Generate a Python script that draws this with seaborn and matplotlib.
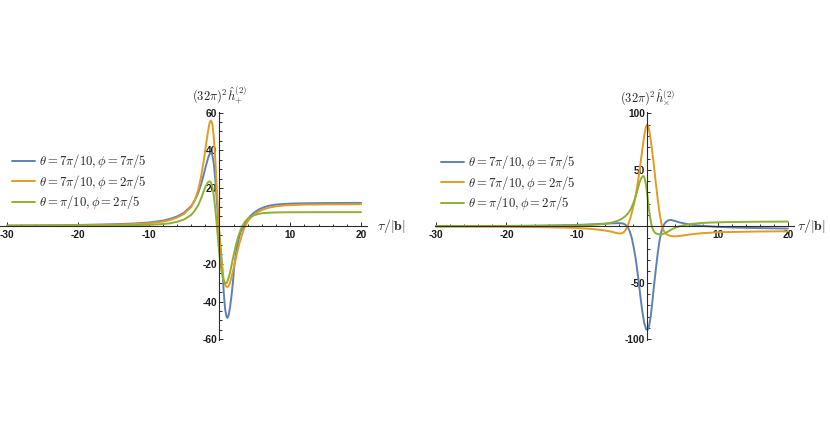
import numpy as np
import pandas as pd
import matplotlib
matplotlib.use("Agg")
import matplotlib.pyplot as plt
import seaborn as sns
from matplotlib.ticker import MultipleLocator, FixedLocator, FixedFormatter

# ---------------- data ----------------
series_labels = [r'$\theta = 7\pi/10, \phi = 7\pi/5$',
                 r'$\theta = 7\pi/10, \phi = 2\pi/5$',
                 r'$\theta = \pi/10, \phi = 2\pi/5$']
series_colors = ['#5E81B5', '#E19C24', '#8FB032']

# left panel: (32 pi)^2 h_+^(2)
tau_p_blue = [-30, -25, -20, -15, -12, -10, -8, -7, -6, -5, -4, -3.5, -3, -2.6, -2.2, -1.9, -1.6, -1.4,
              -1.2, -1.0, -0.8, -0.6, -0.4, -0.2, 0.0, 0.2, 0.4, 0.6, 0.8, 1.0, 1.15, 1.3, 1.5, 1.7, 1.9,
              2.1, 2.4, 2.7, 3.0, 3.4, 3.8, 4.3, 4.8, 5.5, 6.2, 7.0, 8.0, 9.0, 10, 12, 15, 20]
h_p_blue = [0.2, 0.3, 0.5, 0.9, 1.3, 1.8, 2.8, 3.7, 5.0, 7.0, 10.5, 13.5, 17.5, 22, 27.5, 32, 36, 38,
            38.8, 37.5, 33, 25, 15, 4, -5, -13, -22, -35, -44, -48, -48.6, -47, -43, -37, -30,
            -21, -13, -7, -3, -0.5, 2.5, 5, 6.8, 8.6, 9.8, 10.7, 11.3, 11.6, 11.8, 12.0, 12.1, 12.2]

tau_p_orange = [-30, -25, -20, -15, -12, -10, -8, -7, -6, -5, -4, -3.5, -3, -2.6, -2.2, -1.9, -1.6, -1.4,
                -1.2, -1.0, -0.8, -0.6, -0.4, -0.2, 0.0, 0.2, 0.4, 0.6, 0.8, 1.0, 1.15, 1.3, 1.5, 1.7,
                1.9, 2.2, 2.5, 2.8, 3.2, 3.6, 4.0, 4.5, 5.0, 5.6, 6.2, 7.0, 8.0, 9.0, 10, 12, 15, 20]
h_p_orange = [0.1, 0.2, 0.3, 0.6, 1.0, 1.4, 2.3, 3.1, 4.4, 6.4, 10, 13.5, 19, 26, 35, 43, 50.5, 54.5,
              55.8, 54, 47, 36, 22, 8, -5, -15, -23, -28.5, -31.3, -32.2, -32.3, -31.8, -30, -27,
              -24, -19, -14, -9.5, -4.5, -0.3, 2.5, 4.8, 6.3, 7.7, 8.8, 9.7, 10.4, 10.8, 11.0, 11.3, 11.4, 11.5]

tau_p_green = [-30, -25, -20, -15, -12, -10, -8, -7, -6, -5, -4, -3.5, -3, -2.6, -2.2, -1.9, -1.6, -1.4,
               -1.2, -1.0, -0.8, -0.6, -0.4, -0.2, 0.0, 0.2, 0.4, 0.6, 0.85, 1.05, 1.25, 1.5, 1.75, 2.0,
               2.3, 2.6, 2.9, 3.2, 3.6, 4.0, 4.5, 5.0, 5.6, 6.2, 7.0, 8.0, 10, 15, 20]
h_p_green = [0.05, 0.1, 0.15, 0.3, 0.45, 0.6, 1.0, 1.4, 2.2, 3.4, 5.8, 8, 11, 14.5, 18.5, 21.3, 23.2, 23.6,
             23.0, 20.5, 16, 9.5, 1.5, -7, -15, -21.5, -26, -29, -30.5, -30, -28, -24.5, -20, -15.5,
             -10.5, -6.3, -3, -0.2, 2.2, 3.8, 5.0, 5.8, 6.4, 6.8, 7.0, 7.15, 7.25, 7.3, 7.3]

# right panel: (32 pi)^2 h_x^(2)
tau_x_blue = [-30, -25, -20, -15, -12, -10, -8, -6, -5, -4, -3.5, -3.1, -2.8, -2.5, -2.2, -1.9, -1.6, -1.3,
              -1.0, -0.7, -0.4, -0.15, 0.05, 0.25, 0.5, 0.75, 1.0, 1.25, 1.5, 1.75, 2.0, 2.3, 2.6, 3.0,
              3.4, 3.9, 4.5, 5.2, 6.0, 7.0, 8.0, 10, 13, 16, 20]
h_x_blue = [0.1, 0.2, 0.3, 0.6, 0.9, 1.2, 1.7, 2.3, 2.6, 2.8, 2.6, 1.5, -0.5, -4, -10, -19, -30, -44,
            -60, -75, -86, -91, -91.8, -89, -80, -66, -51, -37, -24, -13, -5, 0.5, 3.5, 5.3,
            5.6, 4.8, 3.6, 2.6, 1.7, 0.9, 0.3, -0.5, -1.2, -1.6, -2.0]

tau_x_orange = [-30, -25, -20, -15, -12, -10, -8, -7, -6, -5, -4.4, -3.9, -3.5, -3.2, -2.95, -2.7, -2.4,
                -2.1, -1.8, -1.5, -1.2, -0.9, -0.6, -0.35, -0.15, 0.0, 0.15, 0.35, 0.6, 0.9, 1.2, 1.5,
                1.8, 2.1, 2.4, 2.8, 3.3, 3.8, 4.3, 5.0, 6.0, 7.0, 8.0, 10, 13, 16, 20]
h_x_orange = [-0.1, -0.2, -0.4, -0.8, -1.1, -1.5, -2.3, -2.9, -3.7, -4.9, -5.9, -6.4, -6.0, -4.5, -2, 1.5, 7,
              14, 22, 32, 44, 58, 72, 83, 88.5, 90, 88.5, 83, 72, 57, 40, 24,
              10, 0.5, -4.5, -7.3, -8.5, -8.9, -8.8, -8.2, -7.3, -6.6, -6.0, -5.3, -4.9, -4.6, -4.4]

tau_x_green = [-30, -25, -20, -15, -12, -10, -8, -7, -6, -5, -4.5, -4, -3.5, -3.1, -2.7, -2.3, -2.0, -1.7,
               -1.4, -1.1, -0.85, -0.6, -0.4, -0.2, 0.0, 0.2, 0.4, 0.66, 0.9, 1.2, 1.6, 2.0, 2.5, 3.0,
               3.5, 4.0, 4.7, 5.5, 6.5, 7.5, 9, 11, 15, 20]
h_x_green = [0.05, 0.1, 0.2, 0.4, 0.6, 0.8, 1.2, 1.6, 2.2, 3.3, 4.2, 5.3, 7, 9, 11.5, 15.5, 20, 25,
             31.5, 38.5, 42.5, 44.6, 43.5, 38, 29, 18, 8.5, 0, -4, -6.2, -7.0, -7.1, -6.3, -4.6,
             -2.7, -1.2, 0.2, 1.3, 2.2, 2.8, 3.3, 3.7, 4.0, 4.2]

x_major_ticks = [-30, -20, -10, 10, 20]
x_major_labels = ['-30', '-20', '-10', '10', '20']
yp_major_ticks = [-60, -40, -20, 20, 40, 60]
yp_major_labels = ['-60', '-40', '-20', '20', '40', '60']
yx_major_ticks = [-100, -50, 50, 100]
yx_major_labels = ['-100', '-50', '50', '100']


def long_frame(taus, hs):
    frames = []
    for lab, t, h in zip(series_labels, taus, hs):
        frames.append(pd.DataFrame({'tau': t, 'h': h, 'series': lab}))
    return pd.concat(frames, ignore_index=True)


df_plus = long_frame([tau_p_blue, tau_p_orange, tau_p_green], [h_p_blue, h_p_orange, h_p_green])
df_cross = long_frame([tau_x_blue, tau_x_orange, tau_x_green], [h_x_blue, h_x_orange, h_x_green])

# ---------------- styling ----------------
sns.set_theme(style="white")
plt.rcParams['mathtext.fontset'] = 'cm'
plt.rcParams['axes.unicode_minus'] = False
plt.rcParams['font.family'] = ['Liberation Sans', 'DejaVu Sans']

W, H = 830, 434
fig = plt.figure(figsize=(W / 100, H / 100), dpi=100)
fig.patch.set_facecolor('white')


def px_axes(x0, x1, ytop, ybot):
    return fig.add_axes([x0 / W, (H - ybot) / H, (x1 - x0) / W, (ybot - ytop) / H])


axL = px_axes(0, 366.7, 111.6, 340.3)
axR = px_axes(435.4, 793.5, 112.2, 340.4)

axis_col = '#2b2b2b'


def style(ax, xlim, ylim, yticks, ylabels, yminor, ylabel_txt, leg_xy, xlab_off):
    ax.set_xlim(*xlim)
    ax.set_ylim(*ylim)
    ax.set_facecolor('none')
    for s in ['top', 'right']:
        ax.spines[s].set_visible(False)
    for s in ['left', 'bottom']:
        ax.spines[s].set_position('zero')
        ax.spines[s].set_color(axis_col)
        ax.spines[s].set_linewidth(0.8)
    ax.xaxis.set_major_locator(FixedLocator(x_major_ticks))
    ax.xaxis.set_major_formatter(FixedFormatter(x_major_labels))
    ax.xaxis.set_minor_locator(MultipleLocator(2))
    ax.yaxis.set_major_locator(FixedLocator(yticks))
    ax.yaxis.set_major_formatter(FixedFormatter(ylabels))
    ax.yaxis.set_minor_locator(MultipleLocator(yminor))
    ax.tick_params(which='both', direction='in', color=axis_col, width=0.7,
                   bottom=True, left=True, top=False, right=False)
    ax.tick_params(which='major', length=3.2)
    ax.tick_params(which='minor', length=1.8)
    ax.tick_params(axis='both', which='major', labelsize=7.3, labelcolor='#1a1a1a')
    ax.tick_params(axis='x', pad=3.0)
    ax.tick_params(axis='y', pad=1.5)
    for lab in ax.get_xticklabels() + ax.get_yticklabels():
        lab.set_fontweight('bold')
    ax.set_xlabel('')
    ax.set_ylabel('')
    ax.grid(False)
    ax.annotate(r'$\tau/|\mathbf{b}|$', xy=(1, 0), xycoords=('axes fraction', 'data'),
                xytext=(xlab_off, 0), textcoords='offset points', ha='left', va='center', fontsize=10)
    ax.annotate(ylabel_txt, xy=(0, 1), xycoords=('data', 'axes fraction'),
                xytext=(0, 3), textcoords='offset points', ha='center', va='bottom', fontsize=9)
    handles, labels = ax.get_legend_handles_labels()
    if ax.get_legend() is not None:
        ax.get_legend().remove()
    fig.legend(handles, labels, loc='upper left', bbox_to_anchor=(leg_xy[0] / W, 1 - leg_xy[1] / H),
               bbox_transform=fig.transFigure, frameon=False, fontsize=9.1, handlelength=1.85,
               handletextpad=0.3, labelspacing=0.2, borderpad=0, borderaxespad=0)


sns.lineplot(data=df_plus, x='tau', y='h', hue='series', hue_order=series_labels,
             palette=series_colors, estimator=None, sort=False, lw=1.4, ax=axL)
sns.lineplot(data=df_cross, x='tau', y='h', hue='series', hue_order=series_labels,
             palette=series_colors, estimator=None, sort=False, lw=1.4, ax=axR)

style(axL, (-31, 20.8), (-60.5, 60.5), yp_major_ticks, yp_major_labels, 5,
      r'$(32\pi)^2\hat{h}_{+}^{(2)}$', (12, 152), 7.5)
style(axR, (-30.1, 20.8), (-101, 101), yx_major_ticks, yx_major_labels, 10,
      r'$(32\pi)^2\hat{h}_{\times}^{(2)}$', (441, 153), 2.5)

fig.savefig('out.png', dpi=100, facecolor='white')
